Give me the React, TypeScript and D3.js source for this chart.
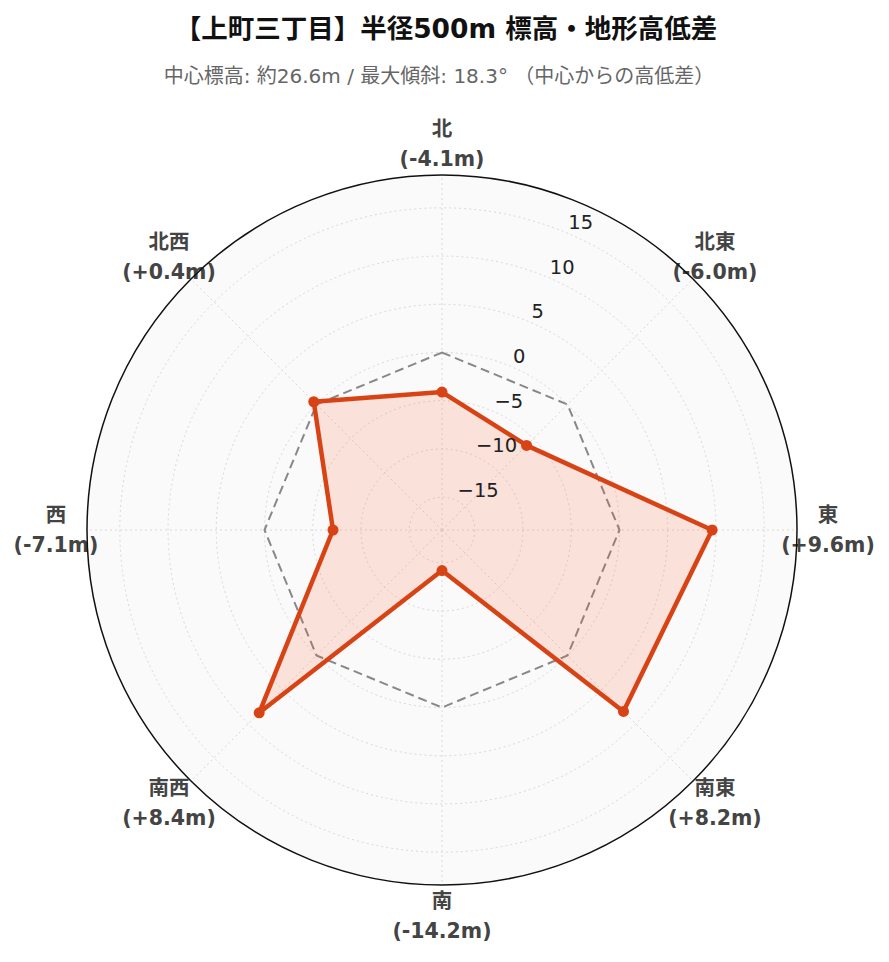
import React from "react";
import * as d3 from "d3";

const directions = ["北", "北東", "東", "南東", "南", "南西", "西", "北西"];
const diffs = [-4.1, -6.0, 9.6, 8.2, -14.2, 8.4, -7.1, 0.4];
const zeroRef = [0, 0, 0, 0, 0, 0, 0, 0];
const radialTicks = [-15, -10, -5, 0, 5, 10, 15];
const RADIAL_MIN = -18.4;
const RADIAL_MAX = 18.4;

const titleText = "【上町三丁目】半径500m 標高・地形高低差";
const subtitleText = "中心標高: 約26.6m / 最大傾斜: 18.3° （中心からの高低差）";

const FONT = "'DejaVu Sans', 'Noto Sans CJK JP', sans-serif";

export default function App() {
  const W = 889;
  const H = 962;
  const cx = 442;
  const cy = 530;
  const R = 355;
  const r = d3.scaleLinear().domain([RADIAL_MIN, RADIAL_MAX]).range([0, R]);
  const angle = d3
    .scalePoint<string>()
    .domain(directions)
    .range([0, (2 * Math.PI * (directions.length - 1)) / directions.length]);

  const pt = (a: number, rad: number): [number, number] => [
    cx + rad * Math.sin(a),
    cy - rad * Math.cos(a),
  ];

  const lineGen = d3
    .lineRadial<number>()
    .angle((_, i) => angle(directions[i]) as number)
    .radius((v) => r(v))
    .curve(d3.curveLinearClosed);

  const axisAngle = Math.PI / 8;
  const color = "#d84315";

  return (
    <svg width={W} height={H} style={{ display: "block", position: "absolute", left: 0, top: 0 }} fontFamily={FONT}>
      <rect x={0} y={0} width={W} height={H} fill="#fff" />
      <text x={446} y={28} textAnchor="middle" dominantBaseline="central" fontSize={26.5} fontWeight="bold" fill="#111">
        {titleText}
      </text>
      <text x={439} y={76} textAnchor="middle" dominantBaseline="central" fontSize={20} fill="#666">
        {subtitleText}
      </text>

      <circle cx={cx} cy={cy} r={R} fill="#fafafa" />
      {radialTicks.map((t) => (
        <circle key={"g" + t} cx={cx} cy={cy} r={r(t)} fill="none" stroke="#d8d8d8" strokeWidth={1} strokeDasharray="2,3" />
      ))}
      {directions.map((d) => {
        const [x2, y2] = pt(angle(d) as number, R);
        return <line key={"s" + d} x1={cx} y1={cy} x2={x2} y2={y2} stroke="#d8d8d8" strokeWidth={1} strokeDasharray="2,3" />;
      })}

      <g transform={`translate(${cx},${cy})`}>
        <path d={lineGen(zeroRef) || ""} fill="none" stroke="#888" strokeWidth={2} strokeDasharray="9,5" />
        <path d={lineGen(diffs) || ""} fill="#ff5722" fillOpacity={0.15} stroke="none" />
        <path d={lineGen(diffs) || ""} fill="none" stroke={color} strokeWidth={4.5} strokeLinejoin="round" />
      </g>
      {diffs.map((v, i) => {
        const [x, y] = pt(angle(directions[i]) as number, r(v));
        return <circle key={"m" + i} cx={x} cy={y} r={5.5} fill={color} />;
      })}

      {radialTicks.map((t) => {
        const [x, y] = pt(axisAngle, r(t));
        return (
          <text key={"t" + t} x={x + 3} y={y - 9.5} dominantBaseline="central" fontSize={19.5} fill="#222">
            {t < 0 ? "\u2212" + Math.abs(t) : String(t)}
          </text>
        );
      })}

      {directions.map((d, i) => {
        const [x, y] = pt(angle(d) as number, 386);
        const v = diffs[i];
        const lbl = `(${v >= 0 ? "+" : "-"}${Math.abs(v).toFixed(1)}m)`;
        return (
          <g key={"a" + d} fontWeight="bold" fill="#444" fontSize={20.5} textAnchor="middle">
            <text x={x} y={y - 15} dominantBaseline="central">{d}</text>
            <text x={x} y={y + 15} dominantBaseline="central">{lbl}</text>
          </g>
        );
      })}

      <circle cx={cx} cy={cy} r={R} fill="none" stroke="#111" strokeWidth={1.5} />
    </svg>
  );
}
